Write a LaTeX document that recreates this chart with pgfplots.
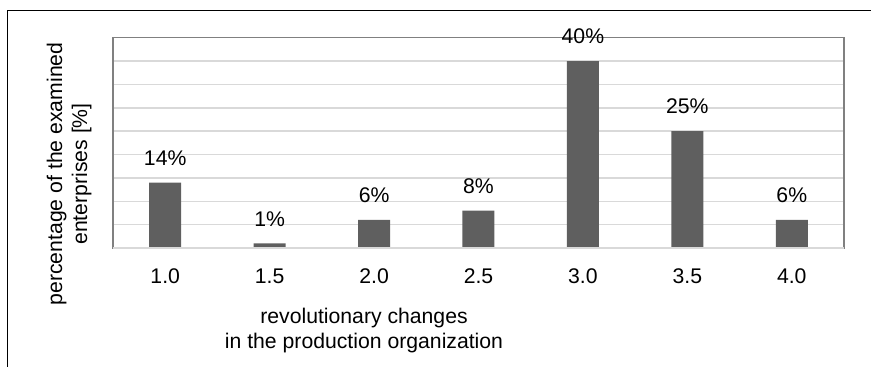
\documentclass[border=0pt]{standalone}
\usepackage{pgfplots}
\pgfplotsset{compat=1.18}
\usepackage{fontspec}
\setmainfont{Liberation Sans}
\definecolor{barc}{RGB}{95,95,95}
\definecolor{gridc}{RGB}{217,217,217}
\definecolor{framec}{RGB}{128,128,128}
\begin{document}
\begin{tikzpicture}[font=\fontsize{10.6bp}{12.5bp}\selectfont]
\useasboundingbox (0,0) rectangle (435.5bp,183.5bp);
\draw[black, line width=0.55bp] (3.65bp,0) -- (3.65bp,178.15bp) -- (436bp,178.15bp);
\begin{axis}[
  at={(56.5bp,59.5bp)}, anchor=south west,
  scale only axis, width=365.5bp, height=105.15bp,
  xmin=-0.5, xmax=6.5, ymin=0, ymax=45,
  clip=false,
  axis line style={draw=framec, line width=0.75bp},
  xtick={0,1,2,3,4,5,6},
  xticklabels={1.0,1.5,2.0,2.5,3.0,3.5,4.0},
  ytick={0,5,10,15,20,25,30,35,40,45},
  yticklabels={},
  major tick length=0pt,
  ymajorgrids,
  major grid style={draw=gridc, line width=0.75bp},
  x tick label style={anchor=north, inner sep=0pt, yshift=-10.15bp},
  xlabel={revolutionary changes\\in the production organization},
  xlabel style={align=center, at={(rel axis cs:0.3434,-0.2853)}, anchor=north, inner sep=0pt},
  ylabel={percentage of the examined\\enterprises [\%]},
  ylabel style={align=center, at={(rel axis cs:-0.091,0.352)}, anchor=north, inner sep=0pt},
  nodes near coords={\pgfmathprintnumber[assume math mode=true]{\pgfplotspointmeta}\%},
  nodes near coords style={anchor=south, inner sep=0pt, yshift=8.4bp, text=black},
]
\addplot[ybar, bar width=16bp, fill=barc, draw=none] coordinates {
  (0,14) (1,1) (2,6) (3,8) (4,40) (5,25) (6,6)
};
\draw[gridc, line width=1bp] (rel axis cs:0,0) -- (rel axis cs:1,0);
\end{axis}
\end{tikzpicture}
\end{document}
